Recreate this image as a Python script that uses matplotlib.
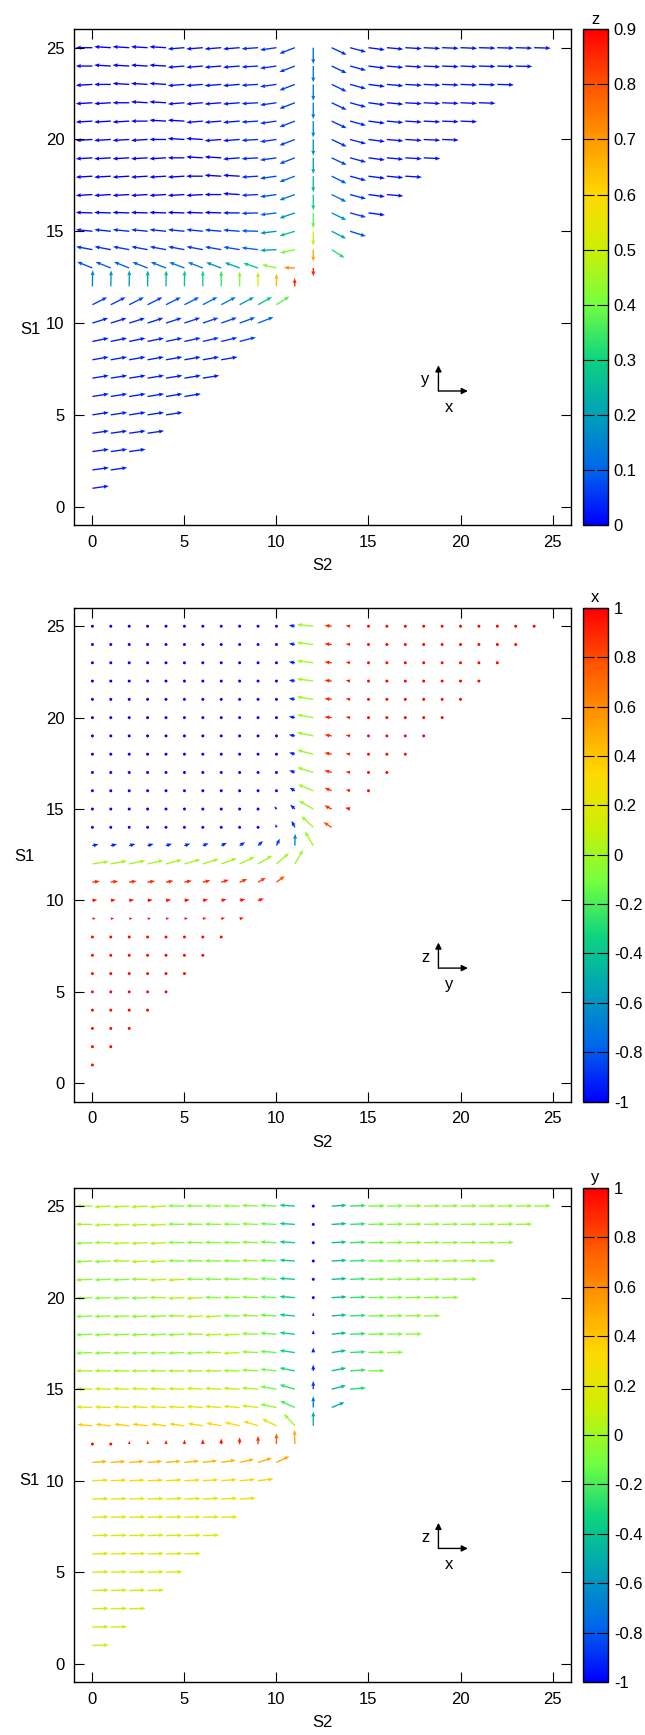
import numpy as np
import matplotlib
matplotlib.use('Agg')
import matplotlib.pyplot as plt
from matplotlib.colors import LinearSegmentedColormap, Normalize

plt.rcParams['font.family'] = ['Liberation Sans', 'DejaVu Sans']
plt.rcParams['axes.unicode_minus'] = False

# Spin components on the triangular lattice.
# Row i of each list is S1 = i+1, entry j of the row is S2 = j (S2 < S1).
SX = [
    [0.99],
    [0.99, 0.99],
    [0.99, 0.99, 0.99],
    [0.99, 0.99, 0.99, 0.99],
    [0.99, 0.99, 0.99, 0.99, 0.99],
    [0.99, 0.99, 0.99, 0.99, 0.99, 0.99],
    [0.99, 0.99, 0.99, 0.99, 0.99, 0.99, 0.99],
    [0.98, 0.98, 0.98, 0.98, 0.98, 0.98, 0.98, 0.98],
    [0.98, 0.98, 0.98, 0.98, 0.98, 0.98, 0.97, 0.97, 0.97],
    [0.95, 0.95, 0.95, 0.95, 0.95, 0.95, 0.94, 0.94, 0.94, 0.93],
    [0.89, 0.89, 0.89, 0.89, 0.89, 0.89, 0.88, 0.88, 0.87, 0.84, 0.78],
    [0.02, 0.02, 0.01, 0.01, 0.01, 0.01, 0.0, 0.0, 0.0, 0.0, 0.0, -0.02],
    [-0.92, -0.92, -0.92, -0.92, -0.92, -0.92, -0.91, -0.91, -0.9, -0.89, -0.87, -0.66, 0.0],
    [-0.98, -0.98, -0.98, -0.98, -0.98, -0.98, -0.98, -0.98, -0.98, -0.99, -0.98, -0.9, 0.0, 0.78],
    [-0.99, -0.99, -0.99, -0.99, -0.99, -0.99, -0.99, -0.99, -0.99, -0.99, -0.98, -0.92, 0.0, 0.87, 0.95],
    [-1.0, -1.0, -1.0, -1.0, -1.0, -1.0, -1.0, -1.0, -1.0, -0.99, -0.98, -0.93, 0.0, 0.88, 0.96, 0.99],
    [-1.0, -1.0, -1.0, -1.0, -1.0, -1.0, -1.0, -1.0, -1.0, -0.99, -0.99, -0.93, 0.0, 0.88, 0.96, 0.99, 0.99],
    [-1.0, -1.0, -1.0, -1.0, -1.0, -1.0, -1.0, -1.0, -1.0, -0.99, -0.99, -0.93, 0.0, 0.89, 0.96, 0.99, 0.99,
     1.0],
    [-1.0, -1.0, -1.0, -1.0, -1.0, -1.0, -1.0, -1.0, -1.0, -0.99, -0.99, -0.93, 0.0, 0.9, 0.96, 0.99, 0.99,
     1.0, 1.0],
    [-1.0, -1.0, -1.0, -1.0, -1.0, -1.0, -1.0, -1.0, -1.0, -0.99, -0.99, -0.93, 0.0, 0.9, 0.96, 0.99, 0.99,
     1.0, 1.0, 1.0],
    [-1.0, -1.0, -1.0, -1.0, -1.0, -1.0, -1.0, -1.0, -1.0, -0.99, -0.99, -0.93, 0.0, 0.9, 0.96, 0.99, 0.99,
     1.0, 1.0, 1.0, 1.0],
    [-1.0, -1.0, -1.0, -1.0, -1.0, -1.0, -1.0, -1.0, -1.0, -0.99, -0.99, -0.93, 0.0, 0.9, 0.96, 0.99, 0.99,
     1.0, 1.0, 1.0, 1.0, 1.0],
    [-1.0, -1.0, -1.0, -1.0, -1.0, -1.0, -1.0, -1.0, -1.0, -0.99, -0.99, -0.93, 0.0, 0.9, 0.96, 0.99, 0.99,
     1.0, 1.0, 1.0, 1.0, 1.0, 1.0],
    [-1.0, -1.0, -1.0, -1.0, -1.0, -1.0, -1.0, -1.0, -1.0, -0.99, -0.99, -0.93, 0.0, 0.9, 0.96, 0.99, 0.99,
     1.0, 1.0, 1.0, 1.0, 1.0, 1.0, 1.0],
    [-1.0, -1.0, -1.0, -1.0, -1.0, -1.0, -1.0, -1.0, -1.0, -0.99, -0.99, -0.93, 0.0, 0.9, 0.96, 0.99, 0.99,
     1.0, 1.0, 1.0, 1.0, 1.0, 1.0, 1.0, 1.0],
]

SY = [
    [0.14],
    [0.14, 0.14],
    [0.14, 0.14, 0.14],
    [0.14, 0.14, 0.14, 0.14],
    [0.15, 0.15, 0.15, 0.15, 0.15],
    [0.16, 0.16, 0.16, 0.16, 0.16, 0.16],
    [0.16, 0.16, 0.16, 0.16, 0.16, 0.16, 0.16],
    [0.17, 0.17, 0.17, 0.17, 0.17, 0.17, 0.17, 0.17],
    [0.2, 0.2, 0.2, 0.2, 0.2, 0.21, 0.22, 0.23, 0.25],
    [0.3, 0.3, 0.3, 0.31, 0.31, 0.32, 0.32, 0.33, 0.34, 0.36],
    [0.45, 0.45, 0.45, 0.45, 0.45, 0.45, 0.46, 0.46, 0.46, 0.47, 0.5],
    [0.98, 0.97, 0.97, 0.96, 0.96, 0.96, 0.95, 0.94, 0.9, 0.86, 0.76, 0.5],
    [0.37, 0.37, 0.37, 0.36, 0.36, 0.35, 0.35, 0.34, 0.33, 0.3, 0.2, 0.02, -0.5],
    [0.18, 0.18, 0.18, 0.18, 0.18, 0.18, 0.18, 0.17, 0.16, 0.12, -0.05, -0.2, -0.72, -0.5],
    [0.1, 0.1, 0.1, 0.1, 0.1, 0.1, 0.1, 0.09, 0.08, 0.03, -0.12, -0.28, -0.86, -0.44, -0.3],
    [0.03, 0.03, 0.03, 0.03, 0.03, 0.03, 0.03, 0.03, 0.0, -0.03, -0.12, -0.32, -0.92, -0.43, -0.26, -0.13],
    [-0.06, -0.06, -0.06, -0.06, -0.06, -0.06, -0.06, 0.0, 0.06, -0.05, -0.14, -0.34, -0.95, -0.44, -0.26,
     -0.13, -0.09],
    [-0.06, -0.06, -0.06, -0.06, -0.06, -0.06, 0.0, 0.06, 0.06, -0.06, -0.14, -0.35, -0.97, -0.44, -0.26,
     -0.13, -0.09, -0.06],
    [-0.06, -0.06, -0.06, -0.06, -0.06, 0.0, 0.06, 0.06, -0.08, -0.06, -0.14, -0.36, -0.98, -0.43, -0.26,
     -0.13, -0.09, -0.06, -0.05],
    [-0.06, -0.06, -0.06, -0.06, 0.0, 0.06, 0.06, -0.08, -0.08, -0.06, -0.14, -0.36, -0.98, -0.43, -0.26,
     -0.13, -0.09, -0.06, -0.05, -0.04],
    [-0.06, -0.06, -0.06, 0.0, 0.06, 0.06, -0.08, -0.08, -0.08, -0.06, -0.14, -0.36, -0.99, -0.43, -0.26,
     -0.13, -0.09, -0.06, -0.05, -0.04, -0.04],
    [-0.06, -0.06, 0.0, 0.06, 0.06, -0.08, -0.08, -0.08, -0.08, -0.06, -0.14, -0.36, -0.99, -0.43, -0.26,
     -0.13, -0.09, -0.06, -0.05, -0.04, -0.04, -0.03],
    [-0.06, 0.0, 0.06, 0.06, 0.06, -0.08, -0.08, -0.08, -0.08, -0.06, -0.14, -0.36, -0.99, -0.43, -0.26,
     -0.13, -0.09, -0.06, -0.05, -0.04, -0.04, -0.03, -0.03],
    [0.0, 0.06, 0.06, 0.06, 0.06, -0.08, -0.08, -0.08, -0.08, -0.06, -0.14, -0.36, -0.99, -0.43, -0.26,
     -0.13, -0.09, -0.06, -0.05, -0.04, -0.04, -0.03, -0.03, -0.03],
    [0.0, 0.06, 0.06, 0.06, 0.06, -0.08, -0.08, -0.08, -0.08, -0.07, -0.14, -0.36, -0.99, -0.43, -0.26,
     -0.13, -0.09, -0.06, -0.05, -0.04, -0.04, -0.03, -0.03, -0.03, -0.03],
]

SZ = [
    [0.03],
    [0.03, 0.03],
    [0.03, 0.03, 0.03],
    [0.03, 0.03, 0.03, 0.03],
    [0.03, 0.03, 0.03, 0.03, 0.03],
    [0.03, 0.03, 0.03, 0.03, 0.03, 0.03],
    [0.03, 0.03, 0.03, 0.03, 0.03, 0.03, 0.03],
    [0.03, 0.03, 0.03, 0.03, 0.03, 0.03, 0.03, 0.03],
    [0.03, 0.03, 0.03, 0.03, 0.04, 0.04, 0.05, 0.05, 0.06],
    [0.04, 0.04, 0.04, 0.04, 0.05, 0.05, 0.06, 0.07, 0.08, 0.11],
    [0.06, 0.06, 0.07, 0.07, 0.08, 0.09, 0.11, 0.14, 0.19, 0.27, 0.37],
    [0.15, 0.18, 0.2, 0.22, 0.25, 0.27, 0.3, 0.34, 0.42, 0.5, 0.65, 0.86],
    [0.08, 0.09, 0.1, 0.1, 0.11, 0.12, 0.14, 0.17, 0.21, 0.28, 0.42, 0.72, 0.86],
    [0.04, 0.04, 0.05, 0.05, 0.05, 0.05, 0.06, 0.07, 0.08, 0.11, 0.2, 0.4, 0.68, 0.32],
    [0.03, 0.03, 0.04, 0.04, 0.04, 0.04, 0.05, 0.05, 0.06, 0.08, 0.17, 0.27, 0.5, 0.22, 0.08],
    [0.0, 0.0, 0.0, 0.0, 0.0, 0.0, 0.0, 0.0, 0.02, 0.06, 0.1, 0.18, 0.38, 0.18, 0.06, 0.02],
    [-0.04, -0.04, -0.04, -0.04, -0.04, -0.04, -0.04, 0.01, -0.05, 0.05, 0.08, 0.13, 0.3, 0.13, 0.05,
     0.02, 0.02],
    [-0.04, -0.04, -0.04, -0.04, -0.04, -0.04, 0.01, -0.05, -0.05, 0.04, 0.07, 0.1, 0.25, 0.09, 0.04,
     0.02, 0.02, 0.02],
    [-0.04, -0.04, -0.04, -0.04, -0.04, 0.01, -0.05, -0.05, 0.02, 0.04, 0.06, 0.08, 0.21, 0.07, 0.04,
     0.02, 0.02, 0.02, 0.02],
    [-0.04, -0.04, -0.04, -0.04, 0.01, -0.05, -0.05, 0.02, 0.02, 0.04, 0.05, 0.07, 0.18, 0.05, 0.04,
     0.02, 0.02, 0.02, 0.02, 0.02],
    [-0.04, -0.04, -0.04, 0.01, -0.05, -0.05, 0.02, 0.02, 0.02, 0.04, 0.05, 0.06, 0.16, 0.05, 0.04,
     0.02, 0.02, 0.02, 0.02, 0.02, 0.02],
    [-0.04, -0.04, 0.01, -0.05, -0.05, 0.02, 0.02, 0.02, 0.02, 0.04, 0.05, 0.06, 0.14, 0.05, 0.04,
     0.02, 0.02, 0.02, 0.02, 0.02, 0.02, 0.02],
    [-0.04, 0.01, -0.05, -0.05, -0.05, 0.02, 0.02, 0.02, 0.02, 0.04, 0.05, 0.06, 0.13, 0.05, 0.04,
     0.02, 0.02, 0.02, 0.02, 0.02, 0.02, 0.02, 0.02],
    [0.01, -0.05, -0.05, -0.05, -0.05, 0.02, 0.02, 0.02, 0.02, 0.04, 0.05, 0.06, 0.12, 0.05, 0.04,
     0.02, 0.02, 0.02, 0.02, 0.02, 0.02, 0.02, 0.02, 0.02],
    [0.01, -0.05, -0.05, -0.05, -0.05, 0.02, 0.02, 0.02, 0.02, 0.04, 0.05, 0.06, 0.11, 0.05, 0.04,
     0.02, 0.02, 0.02, 0.02, 0.02, 0.02, 0.02, 0.02, 0.02, 0.02],
]

x_ticks = [0, 5, 10, 15, 20, 25]
y_ticks = [0, 5, 10, 15, 20, 25]
cb_z_ticks = [0, 0.1, 0.2, 0.3, 0.4, 0.5, 0.6, 0.7, 0.8, 0.9]
cb_z_labels = ['0', '0.1', '0.2', '0.3', '0.4', '0.5', '0.6', '0.7', '0.8', '0.9']
cb_xy_ticks = [-1, -0.8, -0.6, -0.4, -0.2, 0, 0.2, 0.4, 0.6, 0.8, 1]
cb_xy_labels = ['-1', '-0.8', '-0.6', '-0.4', '-0.2', '0', '0.2', '0.4', '0.6', '0.8', '1']

# flatten the lattice
s1, s2, sx, sy, sz = [], [], [], [], []
for i in range(len(SX)):
    for j in range(len(SX[i])):
        s1.append(i + 1)
        s2.append(j)
        sx.append(SX[i][j])
        sy.append(SY[i][j])
        sz.append(SZ[i][j])
s1 = np.array(s1, dtype=float)
s2 = np.array(s2, dtype=float)
sx, sy, sz = np.array(sx), np.array(sy), np.array(sz)

# gnuplot-like rainbow palette
cmap = LinearSegmentedColormap.from_list('pal', [
    (0.0, 0.0, 1.0), (0.0, 0.4, 0.92), (0.0, 0.63, 0.72), (0.05, 0.83, 0.5),
    (0.45, 1.0, 0.25), (0.8, 0.94, 0.02), (1.0, 0.85, 0.0), (1.0, 0.6, 0.0),
    (1.0, 0.33, 0.0), (1.0, 0.0, 0.0)])

panels = [
    # u, v, colour, norm, cb ticks, cb labels, cb title, inset up, inset right
    (sx, sy, sz, Normalize(0, 0.9), cb_z_ticks, cb_z_labels, 'z', 'y', 'x'),
    (sy, sz, sx, Normalize(-1, 1), cb_xy_ticks, cb_xy_labels, 'x', 'z', 'y'),
    (sx, sz, sy, Normalize(-1, 1), cb_xy_ticks, cb_xy_labels, 'y', 'z', 'x'),
]
boxes = [(0.6974, 0.2857), (0.3651, 0.2845), (0.0305, 0.2849)]
s1_label_pos = [(-0.088, 0.395), (-0.1, 0.497), (-0.09, 0.407)]

fig = plt.figure(figsize=(6.45, 17.35), dpi=100)

for (u, v, col, norm, cticks, clabels, ctitle, up_lab, right_lab), (b, h), lpos in zip(
        panels, boxes, s1_label_pos):
    ax = fig.add_axes([0.1147, b, 0.7705, h])
    q = ax.quiver(s2, s1, u, v, col, cmap=cmap, norm=norm, angles='xy',
                  scale_units='xy', scale=1 / 0.9, units='dots', width=1.35,
                  headwidth=3.0, headlength=3.8, headaxislength=3.4, pivot='tail',
                  minlength=2.4)
    ax.set_xlim(-1, 26)
    ax.set_ylim(-1, 26)
    ax.set_xticks(x_ticks)
    ax.set_yticks(y_ticks)
    ax.tick_params(direction='in', top=True, right=True, length=7, width=0.8,
                   labelsize=12, pad=7)
    for sp in ax.spines.values():
        sp.set_linewidth(1.0)
    ax.set_xlabel('S2', fontsize=12, labelpad=6)
    ax.set_ylabel('S1', fontsize=12, rotation=0, va='center', ha='center')
    ax.yaxis.set_label_coords(*lpos)

    # small coordinate system
    x0, y0 = 18.8, 6.3
    ax.annotate('', xy=(x0, y0 + 1.4), xytext=(x0, y0),
                arrowprops=dict(arrowstyle='-|>', color='black', lw=1, mutation_scale=9,
                                shrinkA=0, shrinkB=0))
    ax.annotate('', xy=(x0 + 1.6, y0), xytext=(x0, y0),
                arrowprops=dict(arrowstyle='-|>', color='black', lw=1, mutation_scale=9,
                                shrinkA=0, shrinkB=0))
    ax.text(x0 - 0.7, y0 + 0.6, up_lab, fontsize=12, ha='center', va='center')
    ax.text(x0 + 0.6, y0 - 0.9, right_lab, fontsize=12, ha='center', va='center')

    cax = fig.add_axes([0.9034, b, 0.0397, h])
    cb = fig.colorbar(q, cax=cax, ticks=cticks)
    cb.set_ticklabels(clabels)
    cb.outline.set_linewidth(1.0)
    cax.tick_params(direction='in', left=True, right=True, length=8, width=0.8,
                    labelsize=12, pad=4)
    cax.set_title(ctitle, fontsize=12, pad=4)

fig.savefig('out.png', dpi=100)
